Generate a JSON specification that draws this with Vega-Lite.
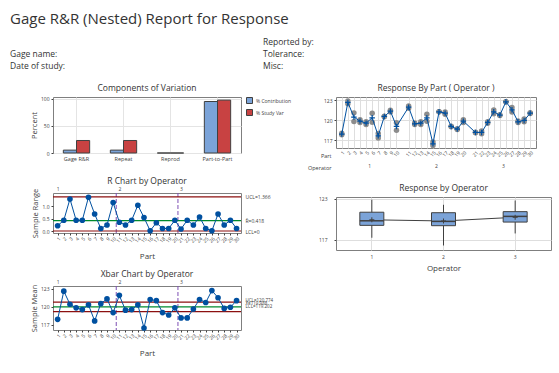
{
  "$schema": "https://vega.github.io/schema/vega-lite/v6.json",
  "padding": {"left": 10, "top": 12, "right": 4, "bottom": 4},
  "background": "white",
  "datasets": {
    "header": [
      {"label": "Reported by:", "col": "R", "row": 1},
      {"label": "Gage name:", "col": "L", "row": 2},
      {"label": "Tolerance:", "col": "R", "row": 2},
      {"label": "Date of study:", "col": "L", "row": 3},
      {"label": "Misc:", "col": "R", "row": 3}
    ],
    "comp": [
      {"source": "Gage R&R", "type": "% Contribution", "value": 5.3},
      {"source": "Gage R&R", "type": "% Study Var", "value": 23.0},
      {"source": "Repeat", "type": "% Contribution", "value": 5.3},
      {"source": "Repeat", "type": "% Study Var", "value": 23.0},
      {"source": "Reprod", "type": "% Contribution", "value": 0},
      {"source": "Reprod", "type": "% Study Var", "value": 0},
      {"source": "Part-to-Part", "type": "% Contribution", "value": 94.7},
      {"source": "Part-to-Part", "type": "% Study Var", "value": 97.3}
    ],
    "parts": [
      {"part": 1, "operator": 1, "mean": 117.89, "range": 0.21},
      {"part": 2, "operator": 1, "mean": 122.63, "range": 0.43},
      {"part": 3, "operator": 1, "mean": 120.43, "range": 1.28},
      {"part": 4, "operator": 1, "mean": 119.83, "range": 0.43},
      {"part": 5, "operator": 1, "mean": 119.53, "range": 0.43},
      {"part": 6, "operator": 1, "mean": 120.33, "range": 1.35},
      {"part": 7, "operator": 1, "mean": 117.63, "range": 0.68},
      {"part": 8, "operator": 1, "mean": 120.53, "range": 0.10},
      {"part": 9, "operator": 1, "mean": 121.33, "range": 0.24},
      {"part": 10, "operator": 1, "mean": 119.03, "range": 1.14},
      {"part": 11, "operator": 2, "mean": 121.93, "range": 0.35},
      {"part": 12, "operator": 2, "mean": 119.43, "range": 0.24},
      {"part": 13, "operator": 2, "mean": 119.53, "range": 0.43},
      {"part": 14, "operator": 2, "mean": 120.33, "range": 1.03},
      {"part": 15, "operator": 2, "mean": 116.43, "range": 0.54},
      {"part": 16, "operator": 2, "mean": 121.23, "range": 0.01},
      {"part": 17, "operator": 2, "mean": 121.03, "range": 0.33},
      {"part": 18, "operator": 2, "mean": 119.03, "range": 0.10},
      {"part": 19, "operator": 2, "mean": 118.63, "range": 0.10},
      {"part": 20, "operator": 2, "mean": 119.83, "range": 0.43},
      {"part": 21, "operator": 3, "mean": 118.13, "range": 0.08},
      {"part": 22, "operator": 3, "mean": 118.13, "range": 0.43},
      {"part": 23, "operator": 3, "mean": 119.63, "range": 0.24},
      {"part": 24, "operator": 3, "mean": 121.23, "range": 0.56},
      {"part": 25, "operator": 3, "mean": 120.73, "range": 0.10},
      {"part": 26, "operator": 3, "mean": 122.73, "range": 0.01},
      {"part": 27, "operator": 3, "mean": 121.53, "range": 0.68},
      {"part": 28, "operator": 3, "mean": 119.73, "range": 0.24},
      {"part": 29, "operator": 3, "mean": 119.93, "range": 0.43},
      {"part": 30, "operator": 3, "mean": 121.03, "range": 0.10}
    ],
    "meas": [
      {"part": 1, "operator": 1, "response": 117.79}, {"part": 1, "operator": 1, "response": 118.00},
      {"part": 2, "operator": 1, "response": 122.42}, {"part": 2, "operator": 1, "response": 122.85},
      {"part": 3, "operator": 1, "response": 119.79}, {"part": 3, "operator": 1, "response": 121.07},
      {"part": 4, "operator": 1, "response": 119.62}, {"part": 4, "operator": 1, "response": 120.05},
      {"part": 5, "operator": 1, "response": 119.32}, {"part": 5, "operator": 1, "response": 119.75},
      {"part": 6, "operator": 1, "response": 119.66}, {"part": 6, "operator": 1, "response": 121.01},
      {"part": 7, "operator": 1, "response": 117.29}, {"part": 7, "operator": 1, "response": 117.97},
      {"part": 8, "operator": 1, "response": 120.48}, {"part": 8, "operator": 1, "response": 120.58},
      {"part": 9, "operator": 1, "response": 121.21}, {"part": 9, "operator": 1, "response": 121.45},
      {"part": 10, "operator": 1, "response": 118.46}, {"part": 10, "operator": 1, "response": 119.60},
      {"part": 11, "operator": 2, "response": 121.76}, {"part": 11, "operator": 2, "response": 122.11},
      {"part": 12, "operator": 2, "response": 119.31}, {"part": 12, "operator": 2, "response": 119.55},
      {"part": 13, "operator": 2, "response": 119.32}, {"part": 13, "operator": 2, "response": 119.75},
      {"part": 14, "operator": 2, "response": 119.82}, {"part": 14, "operator": 2, "response": 120.85},
      {"part": 15, "operator": 2, "response": 116.16}, {"part": 15, "operator": 2, "response": 116.70},
      {"part": 16, "operator": 2, "response": 121.23}, {"part": 16, "operator": 2, "response": 121.24},
      {"part": 17, "operator": 2, "response": 120.87}, {"part": 17, "operator": 2, "response": 121.20},
      {"part": 18, "operator": 2, "response": 118.98}, {"part": 18, "operator": 2, "response": 119.08},
      {"part": 19, "operator": 2, "response": 118.58}, {"part": 19, "operator": 2, "response": 118.68},
      {"part": 20, "operator": 2, "response": 119.62}, {"part": 20, "operator": 2, "response": 120.05},
      {"part": 21, "operator": 3, "response": 118.09}, {"part": 21, "operator": 3, "response": 118.17},
      {"part": 22, "operator": 3, "response": 117.92}, {"part": 22, "operator": 3, "response": 118.35},
      {"part": 23, "operator": 3, "response": 119.51}, {"part": 23, "operator": 3, "response": 119.75},
      {"part": 24, "operator": 3, "response": 120.95}, {"part": 24, "operator": 3, "response": 121.51},
      {"part": 25, "operator": 3, "response": 120.68}, {"part": 25, "operator": 3, "response": 120.78},
      {"part": 26, "operator": 3, "response": 122.73}, {"part": 26, "operator": 3, "response": 122.74},
      {"part": 27, "operator": 3, "response": 121.19}, {"part": 27, "operator": 3, "response": 121.87},
      {"part": 28, "operator": 3, "response": 119.61}, {"part": 28, "operator": 3, "response": 119.85},
      {"part": 29, "operator": 3, "response": 119.72}, {"part": 29, "operator": 3, "response": 120.15},
      {"part": 30, "operator": 3, "response": 120.98}, {"part": 30, "operator": 3, "response": 121.08}
    ],
    "bounds": [{"boundary": 10.5}, {"boundary": 20.5}],
    "rLimits": [{"value": 0}, {"value": 1.366}],
    "rCenter": [{"value": 0.418}],
    "xLimits": [{"value": 119.202}, {"value": 120.774}],
    "xCenter": [{"value": 119.988}]
  },
  "spacing": 12,
  "resolve": {"scale": {"color": "independent"}},
  "vconcat": [
    {
      "width": 470,
      "height": 24,
      "title": {"text": "Gage R&R (Nested) Report for Response", "anchor": "start", "fontSize": 15, "color": "#333333", "offset": 11},
      "data": {"name": "header"},
      "mark": {"type": "text", "align": "left", "baseline": "middle", "fontSize": 8.5, "color": "#333333", "dx": -43},
      "encoding": {
        "x": {"field": "col", "type": "nominal", "scale": {"type": "point", "domain": ["L", "R"], "range": [0, 253], "padding": 0}, "axis": null},
        "y": {"field": "row", "type": "ordinal", "scale": {"type": "point", "domain": [1, 2, 3], "range": [0, 24], "padding": 0}, "axis": null},
        "text": {"field": "label"}
      },
      "view": {"stroke": null}
    },
    {
      "spacing": 14,
      "resolve": {"scale": {"color": "independent"}},
      "hconcat": [
        {
          "spacing": 14,
          "resolve": {"scale": {"color": "independent"}},
          "vconcat": [
            {
              "width": 188,
              "height": 56,
              "title": {"text": "Components of Variation", "offset": 4},
              "data": {"name": "comp"},
              "mark": {"type": "bar", "stroke": "#404040", "strokeWidth": 1},
              "encoding": {
                "x": {"field": "source", "type": "nominal", "sort": ["Gage R&R", "Repeat", "Reprod", "Part-to-Part"],
                      "scale": {"paddingInner": 0.44, "paddingOuter": 0.22},
                      "axis": {"title": null, "labelAngle": 0, "grid": true, "gridColor": "#e4e4e4", "bandPosition": 0.5, "ticks": false, "labelPadding": 3, "labelFontSize": 5.5}},
                "xOffset": {"field": "type", "type": "nominal", "sort": ["% Contribution", "% Study Var"]},
                "y": {"field": "value", "type": "quantitative", "scale": {"domain": [0, 103]},
                      "axis": {"title": "Percent", "values": [0, 50, 100], "grid": true, "gridColor": "#e4e4e4", "titlePadding": 2}},
                "color": {"field": "type", "type": "nominal",
                          "scale": {"domain": ["% Contribution", "% Study Var"], "range": ["#7ba3d8", "#c84242"]},
                          "legend": {"title": null, "orient": "right", "labelFontSize": 5, "symbolType": "square", "symbolSize": 36, "symbolStrokeColor": "#404040", "symbolStrokeWidth": 1, "offset": 5, "rowPadding": 1, "labelOffset": 3, "labelColor": "#404040"}}
              }
            },
            {
              "spacing": 7,
              "vconcat": [
                {
                  "width": 188,
                  "height": 40,
                  "title": {"text": "R Chart by Operator", "offset": 1},
                  "layer": [
                    {
                      "data": {"name": "bounds"},
                      "mark": {"type": "rule", "color": "#7d4fb4", "strokeDash": [4, 2], "strokeWidth": 1},
                      "encoding": {
                        "x": {"field": "boundary", "type": "quantitative", "scale": {"domain": [0.25, 30.72], "nice": false, "zero": false},
                              "axis": {"orient": "top", "values": [1, 11, 21], "labelExpr": "datum.value == 1 ? '1' : datum.value == 11 ? '2' : '3'", "ticks": false, "title": null, "labelPadding": 2, "labelFontSize": 5}}
                      }
                    },
                    {
                      "data": {"name": "rLimits"},
                      "mark": {"type": "rule", "color": "#8c1010", "strokeWidth": 1.2},
                      "encoding": {
                        "y": {"field": "value", "type": "quantitative", "scale": {"domain": [-0.08, 1.52], "nice": false, "zero": false},
                              "axis": {"orient": "right", "values": [0, 0.418, 1.366], "labelExpr": "datum.value > 1 ? 'UCL=1.366' : datum.value > 0.2 ? 'R̄=0.418' : 'LCL=0'", "ticks": false, "title": null, "labelPadding": 4, "labelFontSize": 5}}
                      }
                    },
                    {
                      "data": {"name": "rCenter"},
                      "mark": {"type": "rule", "color": "#008a2e", "strokeWidth": 1.2},
                      "encoding": {
                        "y": {"field": "value", "type": "quantitative", "scale": {"domain": [-0.08, 1.52], "nice": false, "zero": false}, "axis": null}
                      }
                    },
                    {
                      "data": {"name": "parts"},
                      "mark": {"type": "line", "color": "#0050a0", "strokeWidth": 1},
                      "encoding": {
                        "x": {"field": "part", "type": "quantitative", "scale": {"domain": [0.25, 30.72], "nice": false, "zero": false},
                              "axis": {"values": [1,2,3,4,5,6,7,8,9,10,11,12,13,14,15,16,17,18,19,20,21,22,23,24,25,26,27,28,29,30], "labelAngle": -45, "labelOverlap": false, "labelBound": false, "title": "Part", "titleFontSize": 8, "titlePadding": 9, "labelPadding": 1}},
                        "y": {"field": "range", "type": "quantitative", "scale": {"domain": [-0.08, 1.52], "nice": false, "zero": false},
                              "axis": {"values": [0, 0.5, 1], "format": ".1f", "title": "Sample Range", "titlePadding": 2}}
                      }
                    },
                    {
                      "data": {"name": "parts"},
                      "mark": {"type": "circle", "color": "#0050a0", "size": 32, "opacity": 1},
                      "encoding": {
                        "x": {"field": "part", "type": "quantitative", "scale": {"domain": [0.25, 30.72], "nice": false, "zero": false}, "axis": null},
                        "y": {"field": "range", "type": "quantitative", "scale": {"domain": [-0.08, 1.52], "nice": false, "zero": false}, "axis": null}
                      }
                    }
                  ],
                  "resolve": {"axis": {"x": "independent", "y": "independent"}}
                },
                {
                  "width": 188,
                  "height": 44,
                  "title": {"text": "Xbar Chart by Operator", "offset": 1},
                  "layer": [
                    {
                      "data": {"name": "bounds"},
                      "mark": {"type": "rule", "color": "#7d4fb4", "strokeDash": [4, 2], "strokeWidth": 1},
                      "encoding": {
                        "x": {"field": "boundary", "type": "quantitative", "scale": {"domain": [0.25, 30.72], "nice": false, "zero": false},
                              "axis": {"orient": "top", "values": [1, 11, 21], "labelExpr": "datum.value == 1 ? '1' : datum.value == 11 ? '2' : '3'", "ticks": false, "title": null, "labelPadding": 2, "labelFontSize": 5}}
                      }
                    },
                    {
                      "data": {"name": "xLimits"},
                      "mark": {"type": "rule", "color": "#8c1010", "strokeWidth": 1.2},
                      "encoding": {
                        "y": {"field": "value", "type": "quantitative", "scale": {"domain": [116.1, 123.5], "nice": false, "zero": false},
                              "axis": {"orient": "right", "values": [119.202, 119.988, 120.774], "labelExpr": "datum.value > 120.5 ? 'UCL=120.774' : datum.value > 119.5 ? 'X̄=119.988' : 'LCL=119.202'", "ticks": false, "title": null, "labelPadding": 4, "labelFontSize": 4.5, "labelOverlap": false,
                                       "labelOffset": {"condition": [{"test": "datum.value < 119.5", "value": -5.3}, {"test": "datum.value < 120.5", "value": -3.6}], "value": -2}}}
                      }
                    },
                    {
                      "data": {"name": "xCenter"},
                      "mark": {"type": "rule", "color": "#008a2e", "strokeWidth": 1.2},
                      "encoding": {
                        "y": {"field": "value", "type": "quantitative", "scale": {"domain": [116.1, 123.5], "nice": false, "zero": false}, "axis": null}
                      }
                    },
                    {
                      "data": {"name": "parts"},
                      "mark": {"type": "line", "color": "#0050a0", "strokeWidth": 1},
                      "encoding": {
                        "x": {"field": "part", "type": "quantitative", "scale": {"domain": [0.25, 30.72], "nice": false, "zero": false},
                              "axis": {"values": [1,2,3,4,5,6,7,8,9,10,11,12,13,14,15,16,17,18,19,20,21,22,23,24,25,26,27,28,29,30], "labelAngle": -45, "labelOverlap": false, "labelBound": false, "title": "Part", "titleFontSize": 8, "titlePadding": 9, "labelPadding": 1}},
                        "y": {"field": "mean", "type": "quantitative", "scale": {"domain": [116.1, 123.5], "nice": false, "zero": false},
                              "axis": {"values": [117, 120, 123], "title": "Sample Mean", "titlePadding": 2}}
                      }
                    },
                    {
                      "data": {"name": "parts"},
                      "mark": {"type": "circle", "color": "#0050a0", "size": 32, "opacity": 1},
                      "encoding": {
                        "x": {"field": "part", "type": "quantitative", "scale": {"domain": [0.25, 30.72], "nice": false, "zero": false}, "axis": null},
                        "y": {"field": "mean", "type": "quantitative", "scale": {"domain": [116.1, 123.5], "nice": false, "zero": false}, "axis": null}
                      }
                    }
                  ],
                  "resolve": {"axis": {"x": "independent", "y": "independent"}}
                }
              ]
            }
          ]
        },
        {
          "spacing": 12,
          "align": "none",
          "vconcat": [
            {
              "width": 200,
              "height": 51,
              "title": {"text": "Response By Part ( Operator )", "offset": 4},
              "layer": [
                {
                  "data": {"name": "meas"},
                  "mark": {"type": "circle", "color": "#8c8c8c", "size": 30, "opacity": 1},
                  "encoding": {
                    "x": {"field": "part", "type": "ordinal",
                          "scale": {"type": "point", "domain": [1,2,3,4,5,6,7,8,9,10,100,11,12,13,14,15,16,17,18,19,20,101,21,22,23,24,25,26,27,28,29,30], "padding": 0.95},
                          "axis": {"values": [1,2,3,4,5,6,7,8,9,10,11,12,13,14,15,16,17,18,19,20,21,22,23,24,25,26,27,28,29,30], "labelAngle": -45, "labelOverlap": false, "labelBound": false, "grid": true, "gridColor": "#dedede", "ticks": false, "labelPadding": 2,
                                   "title": "Part", "titleFontSize": 5.5, "titleAngle": 0, "titleAlign": "right", "titleBaseline": "middle", "titleX": -5, "titleY": 7}},
                    "y": {"field": "response", "type": "quantitative", "scale": {"domain": [115.8, 123.45], "nice": false, "zero": false},
                          "axis": {"values": [117, 120, 123], "grid": true, "gridColor": "#dedede", "title": null, "labelOverlap": false}}
                  }
                },
                {
                  "data": {"name": "parts"},
                  "mark": {"type": "line", "color": "#0050a0", "strokeWidth": 1},
                  "encoding": {
                    "x": {"field": "part", "type": "ordinal",
                          "scale": {"type": "point", "domain": [1,2,3,4,5,6,7,8,9,10,100,11,12,13,14,15,16,17,18,19,20,101,21,22,23,24,25,26,27,28,29,30], "padding": 0.95},
                          "axis": {"orient": "bottom", "offset": 15, "values": [5, 15, 25], "labelExpr": "datum.value == 5 ? '1' : datum.value == 15 ? '2' : '3'", "labelOffset": 3, "labelAngle": 0, "ticks": false, "domain": false, "grid": false, "labelPadding": 0,
                                   "title": "Operator", "titleFontSize": 5.5, "titleAngle": 0, "titleAlign": "right", "titleBaseline": "middle", "titleX": -5, "titleY": 4}},
                    "y": {"field": "mean", "type": "quantitative", "scale": {"domain": [115.8, 123.45], "nice": false, "zero": false},
                          "axis": {"values": [117, 120, 123], "grid": true, "gridColor": "#dedede", "title": null, "labelOverlap": false}}
                  }
                },
                {
                  "data": {"name": "parts"},
                  "mark": {"type": "point", "shape": "M-1,0L1,0M0,-1L0,1", "filled": false, "color": "#0050a0", "strokeWidth": 1.2, "size": 30, "opacity": 1},
                  "encoding": {
                    "x": {"field": "part", "type": "ordinal",
                          "scale": {"type": "point", "domain": [1,2,3,4,5,6,7,8,9,10,100,11,12,13,14,15,16,17,18,19,20,101,21,22,23,24,25,26,27,28,29,30], "padding": 0.95},
                          "axis": null},
                    "y": {"field": "mean", "type": "quantitative", "scale": {"domain": [115.8, 123.45], "nice": false, "zero": false},
                          "axis": {"values": [117, 120, 123], "grid": true, "gridColor": "#dedede", "title": null, "labelOverlap": false}}
                  }
                }
              ],
              "resolve": {"axis": {"x": "independent"}}
            },
            {
              "width": 215,
              "height": 53,
              "title": {"text": "Response by Operator", "offset": 4},
              "data": {"name": "meas"},
              "encoding": {
                "x": {"field": "operator", "type": "ordinal", "scale": {"paddingInner": 0, "paddingOuter": 0},
                      "axis": {"title": "Operator", "titleFontSize": 8, "labelAngle": 0, "grid": true, "gridColor": "#dedede", "bandPosition": 0.5, "ticks": false, "labelPadding": 4, "titlePadding": 5}}
              },
              "layer": [
                {
                  "mark": {"type": "line", "color": "#404040", "strokeWidth": 1},
                  "encoding": {
                    "y": {"aggregate": "mean", "field": "response", "type": "quantitative", "scale": {"domain": [115.5, 123.25], "nice": false, "zero": false},
                          "axis": {"values": [117, 120, 123], "grid": true, "gridColor": "#dedede", "title": null, "labelPadding": 7, "labelOverlap": false}}
                  }
                },
                {
                  "mark": {"type": "rule", "color": "#404040", "strokeWidth": 1},
                  "encoding": {
                    "y": {"aggregate": "min", "field": "response", "type": "quantitative"},
                    "y2": {"aggregate": "max", "field": "response"}
                  }
                },
                {
                  "mark": {"type": "bar", "size": 24, "color": "#7ba3d8", "stroke": "#404040", "strokeWidth": 1},
                  "encoding": {
                    "y": {"aggregate": "q1", "field": "response", "type": "quantitative"},
                    "y2": {"aggregate": "q3", "field": "response"}
                  }
                },
                {
                  "mark": {"type": "tick", "size": 24, "thickness": 1.5, "color": "#404040", "orient": "horizontal", "opacity": 1},
                  "encoding": {
                    "y": {"aggregate": "median", "field": "response", "type": "quantitative"}
                  }
                },
                {
                  "mark": {"type": "point", "shape": "M-1,0L1,0M0,-1L0,1", "filled": false, "color": "#404040", "strokeWidth": 1, "size": 25, "opacity": 1},
                  "encoding": {
                    "y": {"aggregate": "mean", "field": "response", "type": "quantitative"}
                  }
                }
              ]
            }
          ]
        }
      ]
    }
  ],
  "config": {
    "font": "Open Sans",
    "view": {"stroke": "#7f7f7f", "strokeWidth": 1},
    "axis": {"labelFontSize": 5, "labelColor": "#404040", "titleFontSize": 7.5, "titleFontWeight": "normal", "titleColor": "#404040", "tickColor": "#404040", "tickSize": 2, "domain": false, "grid": false},
    "title": {"fontSize": 8.5, "fontWeight": "normal", "color": "#333333"},
    "legend": {"labelFontSize": 5}
  }
}
